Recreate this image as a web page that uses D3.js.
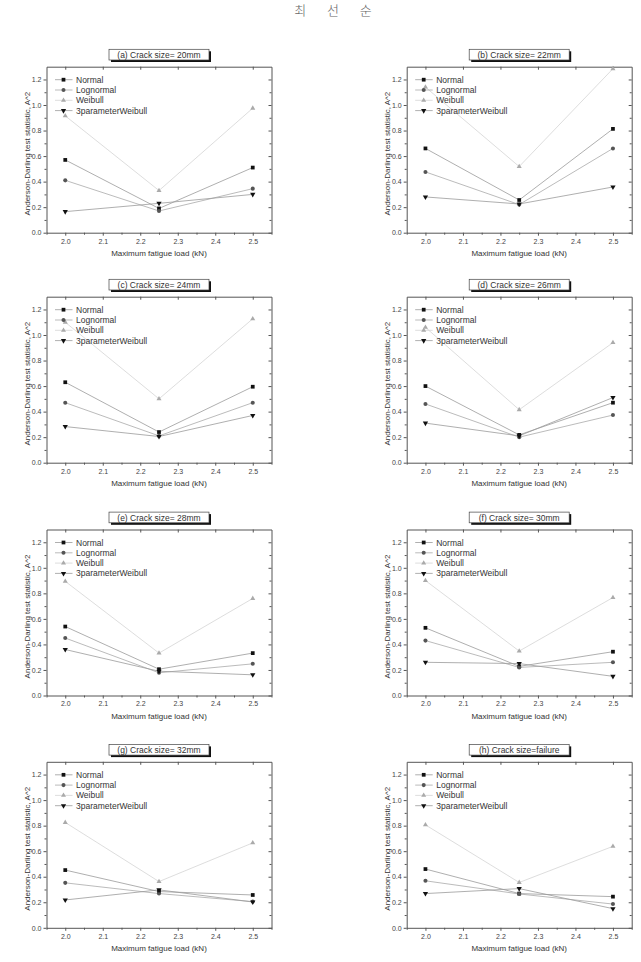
<!DOCTYPE html>
<html>
<head>
<meta charset="utf-8">
<script src="https://cdn.jsdelivr.net/npm/d3@7"></script>
<style>
  body { margin: 0; background: #fff; }
  svg { display: block; }
  text { font-family: "Liberation Sans", Arial, sans-serif; fill: #333; }
  .domain { stroke: #555; }
  .tick line { stroke: #555; }
</style>
</head>
<body>
<svg id="chart" width="641" height="962"></svg>
<script>
// values
const loads = [2.0, 2.25, 2.5];
const panelTitles = ["(a) Crack size= 20mm", "(b)  Crack size= 22mm", "(c)  Crack size= 24mm", "(d)  Crack size= 26mm",
    "(e) Crack size= 28mm", "(f)  Crack size= 30mm", "(g) Crack size= 32mm", "(h)  Crack size=failure"];
const seriesNames = ["Normal", "Lognormal", "Weibull", "3parameterWeibull"];
const normal = [[0.57, 0.19, 0.51], [0.66, 0.256, 0.813], [0.63, 0.24, 0.595], [0.60, 0.218, 0.47],
    [0.54, 0.206, 0.332], [0.53, 0.228, 0.343], [0.452, 0.284, 0.257], [0.46, 0.268, 0.244]];
const lognormal = [[0.41, 0.17, 0.345], [0.476, 0.22, 0.66], [0.47, 0.21, 0.47], [0.46, 0.20, 0.373],
    [0.45, 0.178, 0.248], [0.43, 0.22, 0.26], [0.352, 0.268, 0.205], [0.368, 0.265, 0.186]];
const weibull = [[0.915, 0.33, 0.975], [1.14, 0.518, 1.284], [1.10, 0.50, 1.127], [1.06, 0.415, 0.94],
    [0.894, 0.332, 0.76], [0.90, 0.348, 0.767], [0.825, 0.362, 0.665], [0.806, 0.355, 0.638]];
const threeParam = [[0.165, 0.23, 0.30], [0.28, 0.225, 0.358], [0.283, 0.205, 0.37], [0.31, 0.21, 0.51],
    [0.36, 0.19, 0.162], [0.26, 0.25, 0.15], [0.218, 0.297, 0.202], [0.268, 0.307, 0.15]];
const yTicks = [0.0, 0.2, 0.4, 0.6, 0.8, 1.0, 1.2];
const xTicks = [2.0, 2.1, 2.2, 2.3, 2.4, 2.5];

const svg = d3.select("svg#chart");

// header (author name)
svg.append("text")
    .attr("x", 333).attr("y", 15)
    .attr("text-anchor", "middle")
    .style("font-family", "'Noto Sans CJK KR'")
    .style("font-size", "13px")
    .style("font-weight", 300)
    .style("word-spacing", "18px")
    .style("fill", "#666")
    .text("최 선 순");

const colLeft = [46.5, 406.7];
const rowTop = [66.7, 296.7, 529.5, 761.8];
const plotW = 225;
const plotH = 166;

const styles = [
    {line: "#9a9a9a", fill: "#111", sym: d3.symbolSquare, size: 14},
    {line: "#aaaaaa", fill: "#555", sym: d3.symbolCircle, size: 13},
    {line: "#d4d4d4", fill: "#aaa", sym: d3.symbolTriangle, size: 11},
    {line: "#9a9a9a", fill: "#111", sym: d3.symbolTriangle, size: 12, flip: true}
];

panelTitles.forEach((title, i) => {
    const left = colLeft[i % 2];
    const top = rowTop[Math.floor(i / 2)];
    const g = svg.append("g").attr("transform", `translate(${left},${top})`);

    const x = d3.scaleLinear().domain([1.95, 2.55]).range([0, plotW]);
    const y = d3.scaleLinear().domain([0, 1.3]).range([plotH, 0]);

    const minorX = d3.range(1.95, 2.551, 0.05).filter(v => Math.abs(v * 10 - Math.round(v * 10)) > 0.01);
    const minorY = d3.range(0.1, 1.3, 0.2);

    // minor ticks
    g.append("g").attr("transform", `translate(0,${plotH})`)
        .call(d3.axisBottom(x).tickValues(minorX).tickSize(2).tickFormat(""))
        .call(a => a.select(".domain").remove());
    g.append("g")
        .call(d3.axisLeft(y).tickValues(minorY).tickSize(2).tickFormat(""))
        .call(a => a.select(".domain").remove());
    g.append("g").attr("transform", `translate(${plotW},0)`)
        .call(d3.axisRight(y).tickValues(minorY).tickSize(-2).tickFormat(""))
        .call(a => a.select(".domain").remove());

    // major axes
    const bottom = g.append("g").attr("transform", `translate(0,${plotH})`)
        .call(d3.axisBottom(x).tickValues(xTicks).tickSize(3).tickSizeOuter(0).tickPadding(3).tickFormat(d3.format(".1f")));
    const leftAx = g.append("g")
        .call(d3.axisLeft(y).tickValues(yTicks).tickSize(3).tickSizeOuter(0).tickPadding(2).tickFormat(d3.format(".1f")));
    g.append("g").attr("transform", `translate(${plotW},0)`)
        .call(d3.axisRight(y).tickValues(yTicks).tickSize(-3).tickSizeOuter(0).tickFormat(""));
    g.append("g")
        .call(d3.axisTop(x).tickValues(xTicks).tickSize(-3).tickSizeOuter(0).tickFormat(""));
    [bottom, leftAx].forEach(a => a.selectAll("text").style("font-size", "7px").style("fill", "#444"));
    g.selectAll(".domain").attr("stroke", "#555");

    // axis titles
    g.append("text")
        .attr("x", plotW / 2).attr("y", plotH + 23)
        .attr("text-anchor", "middle")
        .style("font-size", "8px")
        .text("Maximum fatigue load (kN)");
    g.append("text")
        .attr("transform", `translate(-17,${plotH / 2 + 4}) rotate(-90)`)
        .attr("text-anchor", "middle")
        .style("font-size", "8px")
        .text("Anderson-Darling test statistic, A^2");

    // title box with shadow
    const bw = 100, bh = 10.7;
    const bx = plotW / 2 - bw / 2, by = -17.4;
    g.append("rect").attr("x", bx + 2).attr("y", by + 2).attr("width", bw).attr("height", bh).attr("fill", "#111");
    g.append("rect").attr("x", bx).attr("y", by).attr("width", bw).attr("height", bh)
        .attr("fill", "#fff").attr("stroke", "#444").attr("stroke-width", 0.7);
    g.append("text")
        .attr("x", plotW / 2).attr("y", by + 8.4)
        .attr("text-anchor", "middle")
        .style("font-size", "8.5px")
        .text(title);

    const seriesData = [normal[i], lognormal[i], weibull[i], threeParam[i]];
    const lineGen = d3.line().x((d, j) => x(loads[j])).y(d => y(d));

    // lines first, then markers
    seriesData.forEach((vals, s) => {
        g.append("path").datum(vals)
            .attr("fill", "none")
            .attr("stroke", styles[s].line)
            .attr("stroke-width", 0.8)
            .attr("d", lineGen);
    });
    seriesData.forEach((vals, s) => {
        const st = styles[s];
        g.selectAll(null).data(vals).join("path")
            .attr("d", d3.symbol().type(st.sym).size(st.size))
            .attr("transform", (d, j) => `translate(${x(loads[j])},${y(d)})${st.flip ? " rotate(180)" : ""}`)
            .attr("fill", st.fill);
    });

    // legend
    const leg = g.append("g").attr("transform", "translate(8.5,13)");
    seriesNames.forEach((name, s) => {
        const st = styles[s];
        const row = leg.append("g").attr("transform", `translate(0,${s * 10.3})`);
        row.append("line").attr("x1", 0).attr("x2", 17.5).attr("y1", 0).attr("y2", 0)
            .attr("stroke", st.line).attr("stroke-width", 0.8);
        row.append("path")
            .attr("d", d3.symbol().type(st.sym).size(st.size))
            .attr("transform", `translate(8.5,0)${st.flip ? " rotate(180)" : ""}`)
            .attr("fill", st.fill);
        row.append("text").attr("x", 21).attr("y", 3)
            .style("font-size", "8.5px")
            .text(name);
    });
});
</script>
</body>
</html>
